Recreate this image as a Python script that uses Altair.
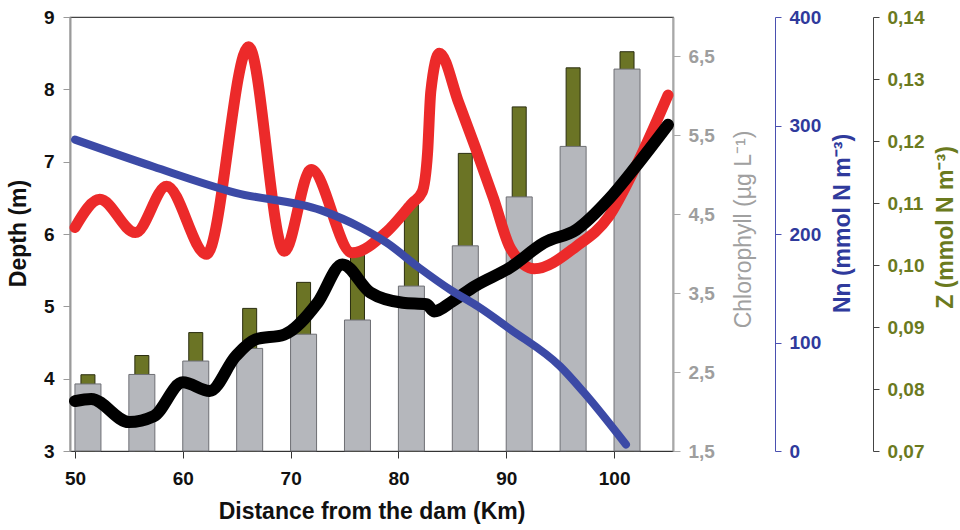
import altair as alt
import pandas as pd

# ---- data ----
bar_km = [51.2, 56.2, 61.2, 66.2, 71.2, 76.2, 81.2, 86.2, 91.2, 96.2, 101.2]
chlorophyll = [2.35, 2.47, 2.64, 2.80, 2.98, 3.16, 3.59, 4.10, 4.72, 5.36, 6.34]
zooplankton = [0.0823, 0.0854, 0.0891, 0.0930, 0.0972, 0.1021, 0.1098, 0.1180, 0.1255, 0.1318, 0.1344]

red_km = [50.0, 52.3, 55.6, 58.5, 62.2, 66.1, 69.4, 71.9, 75.7, 78.9, 81.3, 82.2, 82.7, 83.0, 83.8,
          85.6, 87.1, 88.8, 90.4, 92.6, 96.5, 99.5, 102.0, 105.0]
red_depth = [6.09, 6.48, 6.02, 6.66, 5.72, 8.59, 5.76, 6.89, 5.74, 6.03, 6.43, 6.58, 7.12, 7.97, 8.50,
             7.81, 7.21, 6.50, 5.80, 5.52, 5.83, 6.24, 6.93, 7.92]

black_km = [50.0, 51.5, 55.0, 57.3, 60.0, 62.5, 64.9, 66.7, 69.4, 72.5, 74.8, 77.4, 80.4, 82.6,
            83.3, 85.0, 87.1, 90.4, 93.5, 96.5, 99.5, 102.0, 105.0]
black_depth = [3.69, 3.72, 3.40, 3.48, 3.95, 3.83, 4.31, 4.54, 4.61, 5.05, 5.58, 5.19, 5.05, 5.03,
               4.93, 5.07, 5.28, 5.54, 5.88, 6.06, 6.48, 6.93, 7.51]

nn_km = [50.0, 57.3, 64.9, 72.8, 76.5, 78.9, 81.9, 84.9, 87.4, 90.4, 95.0, 97.2, 101.1]
nn_val = [287, 262, 238, 222, 206, 192, 169, 148, 133, 112, 78, 54, 6]

x_ticks = [50, 60, 70, 80, 90, 100]
depth_ticks = [3, 4, 5, 6, 7, 8, 9]
chl_ticks = [1.5, 2.5, 3.5, 4.5, 5.5, 6.5]
nn_ticks = [0, 100, 200, 300, 400]
z_ticks = [0.07, 0.08, 0.09, 0.10, 0.11, 0.12, 0.13, 0.14]

bars = pd.DataFrame({"km": bar_km, "chl": chlorophyll, "z": zooplankton})
red = pd.DataFrame({"km": red_km, "depth": red_depth})
black = pd.DataFrame({"km": black_km, "depth": black_depth})
nn = pd.DataFrame({"km": nn_km, "nn": nn_val})

FONT = "Liberation Sans"
GRAY_LBL = "#9e9e9e"
BLUE = "#2f3a9c"
OLIVE = "#6b7a1e"
LBL = 19
TTL = 23

x_scale = alt.Scale(domain=[50, 105], nice=False, zero=False)
x_axis = alt.Axis(values=x_ticks, title="Distance from the dam (Km)", grid=False,
                  labelFont=FONT, labelFontSize=LBL, labelFontWeight="bold", labelColor="#111",
                  titleFont=FONT, titleFontSize=TTL, titleFontWeight="bold", titleColor="#111",
                  domainColor="#333", tickColor="#333", tickSize=7, labelPadding=11, titlePadding=12)


def X():
    return alt.X("km:Q", scale=x_scale, axis=x_axis)


z_layer = alt.Chart(bars).mark_bar(size=14, color="#6b7425", stroke="#2a2d10", strokeWidth=1).encode(
    x=X(),
    y=alt.Y("z:Q", scale=alt.Scale(domain=[0.07, 0.14], nice=False, zero=False),
            axis=alt.Axis(orient="right", offset=200, values=z_ticks, grid=False,
                          labelExpr="replace(format(datum.value, '.2f'), '.', ',')",
                          labelFont=FONT, labelFontSize=LBL, labelFontWeight="bold", labelColor=OLIVE,
                          domainColor="#444", tickColor="#444", tickSize=6, labelPadding=8,
                          title="Z (mmol N m⁻³)", titleFont=FONT, titleFontSize=TTL,
                          titleFontWeight="bold", titleColor=OLIVE, titleAngle=270,
                          titleX=72, titleY=210, titleAlign="center", titleBaseline="middle")),
    y2=alt.Y2(datum=0.07),
)

chl_layer = alt.Chart(bars).mark_bar(size=26, color="#b5b7bc", stroke="#6e6f74", strokeWidth=1).encode(
    x=X(),
    y=alt.Y("chl:Q", scale=alt.Scale(domain=[1.5, 7.0], nice=False, zero=False),
            axis=alt.Axis(orient="right", offset=0, values=chl_ticks, grid=False,
                          labelExpr="replace(format(datum.value, '.1f'), '.', ',')",
                          labelFont=FONT, labelFontSize=LBL, labelFontWeight="bold", labelColor=GRAY_LBL,
                          domainColor="#a8a8a8", domainWidth=2, tickColor="#a8a8a8", tickSize=7,
                          labelPadding=8,
                          title="Chlorophyll (µg L⁻¹)", titleFont=FONT, titleFontSize=TTL,
                          titleFontWeight="normal", titleColor="#a0a0a0", titleAngle=270,
                          titleX=70, titleY=212, titleAlign="center", titleBaseline="middle")),
    y2=alt.Y2(datum=1.5),
)

depth_scale = alt.Scale(domain=[3, 9], nice=False, zero=False)

red_layer = alt.Chart(red).mark_line(color="#ec2a2a", strokeWidth=11, interpolate="monotone",
                                     strokeCap="round", strokeJoin="round").encode(
    x=X(),
    y=alt.Y("depth:Q", scale=depth_scale,
            axis=alt.Axis(orient="left", values=depth_ticks, grid=False,
                          labelFont=FONT, labelFontSize=LBL, labelFontWeight="bold", labelColor="#111",
                          domainColor="#9a9a9a", domainWidth=2, tickColor="#9a9a9a", tickSize=7,
                          labelPadding=9,
                          title="Depth (m)", titleFont=FONT, titleFontSize=TTL, titleFontWeight="bold",
                          titleColor="#111", titleAngle=270, titleX=-52, titleY=216,
                          titleAlign="center", titleBaseline="middle")),
)

black_layer = alt.Chart(black).mark_line(color="#000000", strokeWidth=12, interpolate="monotone",
                                         strokeCap="round", strokeJoin="round").encode(
    x=X(),
    y=alt.Y("depth:Q", scale=depth_scale, axis=None),
)

nn_layer = alt.Chart(nn).mark_line(color="#3c4aa6", strokeWidth=8, interpolate="monotone",
                                   strokeCap="round").encode(
    x=X(),
    y=alt.Y("nn:Q", scale=alt.Scale(domain=[0, 400], nice=False),
            axis=alt.Axis(orient="right", offset=102, values=nn_ticks, grid=False,
                          labelFont=FONT, labelFontSize=LBL, labelFontWeight="bold", labelColor=BLUE,
                          domainColor="#4a50b0", tickColor="#4a50b0", tickSize=6, labelPadding=8,
                          title="Nn (mmol N m⁻³)", titleFont=FONT, titleFontSize=TTL,
                          titleFontWeight="bold", titleColor=BLUE, titleAngle=270,
                          titleX=67, titleY=206, titleAlign="center", titleBaseline="middle")),
)

chart = alt.layer(z_layer, chl_layer, red_layer, black_layer, nn_layer).resolve_scale(
    y="independent"
).properties(
    width=603, height=434,
    padding={"left": 70, "top": 17, "right": 287, "bottom": 79},
    autosize=alt.AutoSizeParams(type="none"),
    background="white",
).configure_view(stroke="#444", strokeWidth=1.2)

chart.save("out.html", embed_options={"renderer": "svg", "actions": False})
